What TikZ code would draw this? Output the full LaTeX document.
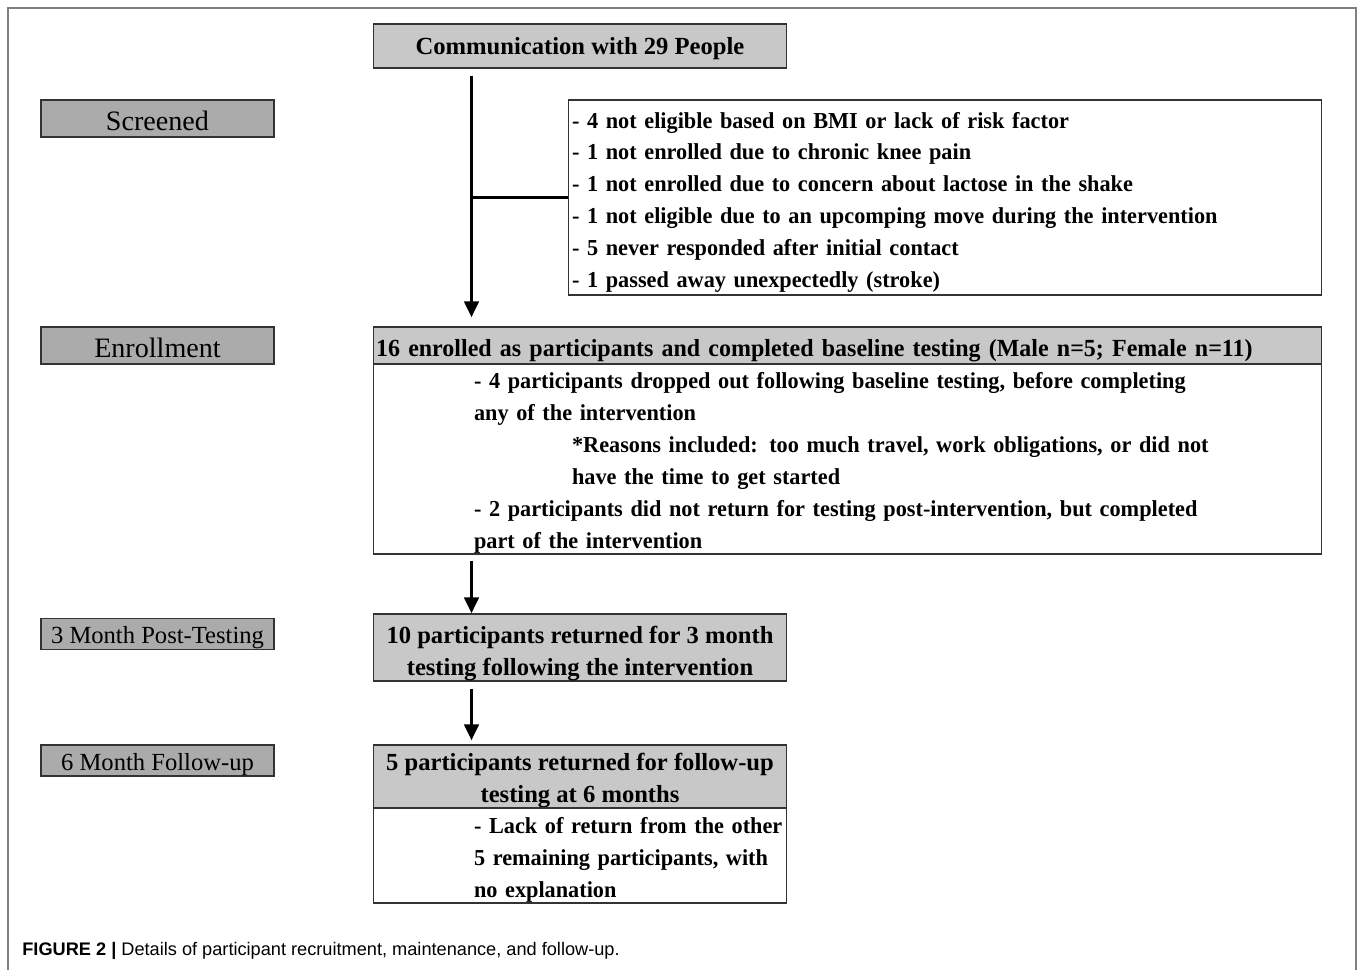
\documentclass[tikz,border=0pt]{standalone}
\usepackage{fontspec}
\setmainfont{Liberation Serif}
\newfontfamily\slimfont[FakeStretch=0.975]{Liberation Serif}
\newfontfamily\capfont{Liberation Sans}
\usetikzlibrary{positioning,calc,arrows.meta}
\definecolor{lblgray}{RGB}{171,171,171}
\definecolor{hdrgray}{RGB}{200,200,200}
\definecolor{framegray}{RGB}{128,128,128}

\begin{document}
\begin{tikzpicture}[x=0.02cm,y=-0.02cm,
    tlow/.style={execute at begin node={\rule{0pt}{#1}}},
    lbl/.style={draw=black!80,line width=0.6pt,fill=lblgray,minimum width=4.66cm,inner sep=0pt},
    hbox/.style={draw=black!80,line width=0.6pt,fill=hdrgray,inner sep=0pt,font=\bfseries\fontsize{14}{18.2}\selectfont,align=center},
    tbox/.style={draw=black!80,line width=0.6pt,fill=white,inner xsep=0.04cm,inner ysep=0pt,font=\slimfont\bfseries\fontsize{13}{18.2}\selectfont,align=left},
    arr/.style={line width=2.2pt,-{Triangle[width=0.28cm,length=0.32cm]}}]
    \useasboundingbox (0,0) rectangle (1358,970);
    \draw[framegray,line width=0.8pt] (8,970) -- (8,8) -- (1356,8) -- (1356,970);

    % stage labels
    \node[lbl,minimum height=0.74cm,font=\fontsize{16}{18}\selectfont,tlow=13.3pt] (screened) at (157.5,118.5) {Screened};
    \node[lbl,minimum height=0.74cm,font=\fontsize{16}{18}\selectfont,tlow=13.3pt] (enroll) at (157.5,345.5) {Enrollment};
    \node[lbl,minimum height=0.60cm,font=\fontsize{14}{16}\selectfont,tlow=14.3pt] (post) at (157.5,634) {3 Month Post-Testing};
    \node[lbl,minimum height=0.62cm,font=\fontsize{14}{16}\selectfont,tlow=14.3pt] (follow) at (157.5,760.5) {6 Month Follow-up};

    % flow boxes
    \node[hbox,minimum width=8.28cm,minimum height=0.88cm,tlow=13.1pt] (comm) at (580,46) {Communication with 29 People};
    \node[tbox,minimum width=15.08cm,minimum height=3.9cm,text width=14.92cm,inner xsep=0.08cm,tlow=14.7pt] (excl) at (945,197.5)
        {- 4 not eligible based on BMI or lack of risk factor\\
         - 1 not enrolled due to chronic knee pain\\
         - 1 not enrolled due to concern about lactose in the shake\\
         - 1 not eligible due to an upcomping move during the intervention\\
         - 5 never responded after initial contact\\
         - 1 passed away unexpectedly (stroke)};
    \node[hbox,minimum width=18.98cm,minimum height=0.74cm,align=left,text width=18.86cm,inner xsep=0.06cm,
          font=\slimfont\bfseries\fontsize{14}{18.2}\selectfont,tlow=15.4pt] (hdr) at (847.5,345.5)
        {16 enrolled as participants and completed baseline testing (Male n=5; Female n=11)};
    \node[tbox,minimum width=18.98cm,minimum height=3.8cm,text width=18.9cm,tlow=13.6pt] (body) at (847.5,459)
        {\hspace*{1.98cm}- 4 participants dropped out following baseline testing, before completing\\
         \hspace*{1.98cm}any of the intervention\\
         \hspace*{3.94cm}*Reasons included: too much travel, work obligations, or did not\\
         \hspace*{3.94cm}have the time to get started\\
         \hspace*{1.98cm}- 2 participants did not return for testing post-intervention, but completed\\
         \hspace*{1.98cm}part of the intervention};
    \node[hbox,minimum width=8.28cm,minimum height=1.34cm] (ten) at (580,647.5)
        {\rule{0pt}{16.5pt}10 participants returned for 3 month\\testing following the intervention};
    \node[hbox,minimum width=8.28cm,minimum height=1.26cm] (five) at (580,776.5)
        {\rule{0pt}{14.3pt}5 participants returned for follow-up\\testing at 6 months};
    \node[tbox,minimum width=8.28cm,minimum height=1.9cm,text width=8.2cm,tlow=14.4pt] (fivebody) at (580,855.5)
        {\hspace*{1.98cm}\mbox{- Lack of return from the other}\\
         \hspace*{1.98cm}\mbox{5 remaining participants, with}\\
         \hspace*{1.98cm}no explanation};

    % connectors
    \coordinate (col) at (471.5,0);
    \draw[arr] ([yshift=-0.14cm]comm.south -| col) -- ([yshift=0.18cm]hdr.north -| col);
    \draw[line width=2.2pt] (col |- excl.west) -- (excl.west);
    \draw[arr] ([yshift=-0.12cm]body.south -| col) -- (ten.north -| col);
    \draw[arr] ([yshift=-0.14cm]ten.south -| col) -- ([yshift=0.08cm]five.north -| col);

    \node[anchor=west,inner sep=0pt,font=\capfont\fontsize{10.35}{12}\selectfont] (cap) at (22,951)
        {\textbf{FIGURE 2 |} Details of participant recruitment, maintenance, and follow-up.};
\end{tikzpicture}
\end{document}
